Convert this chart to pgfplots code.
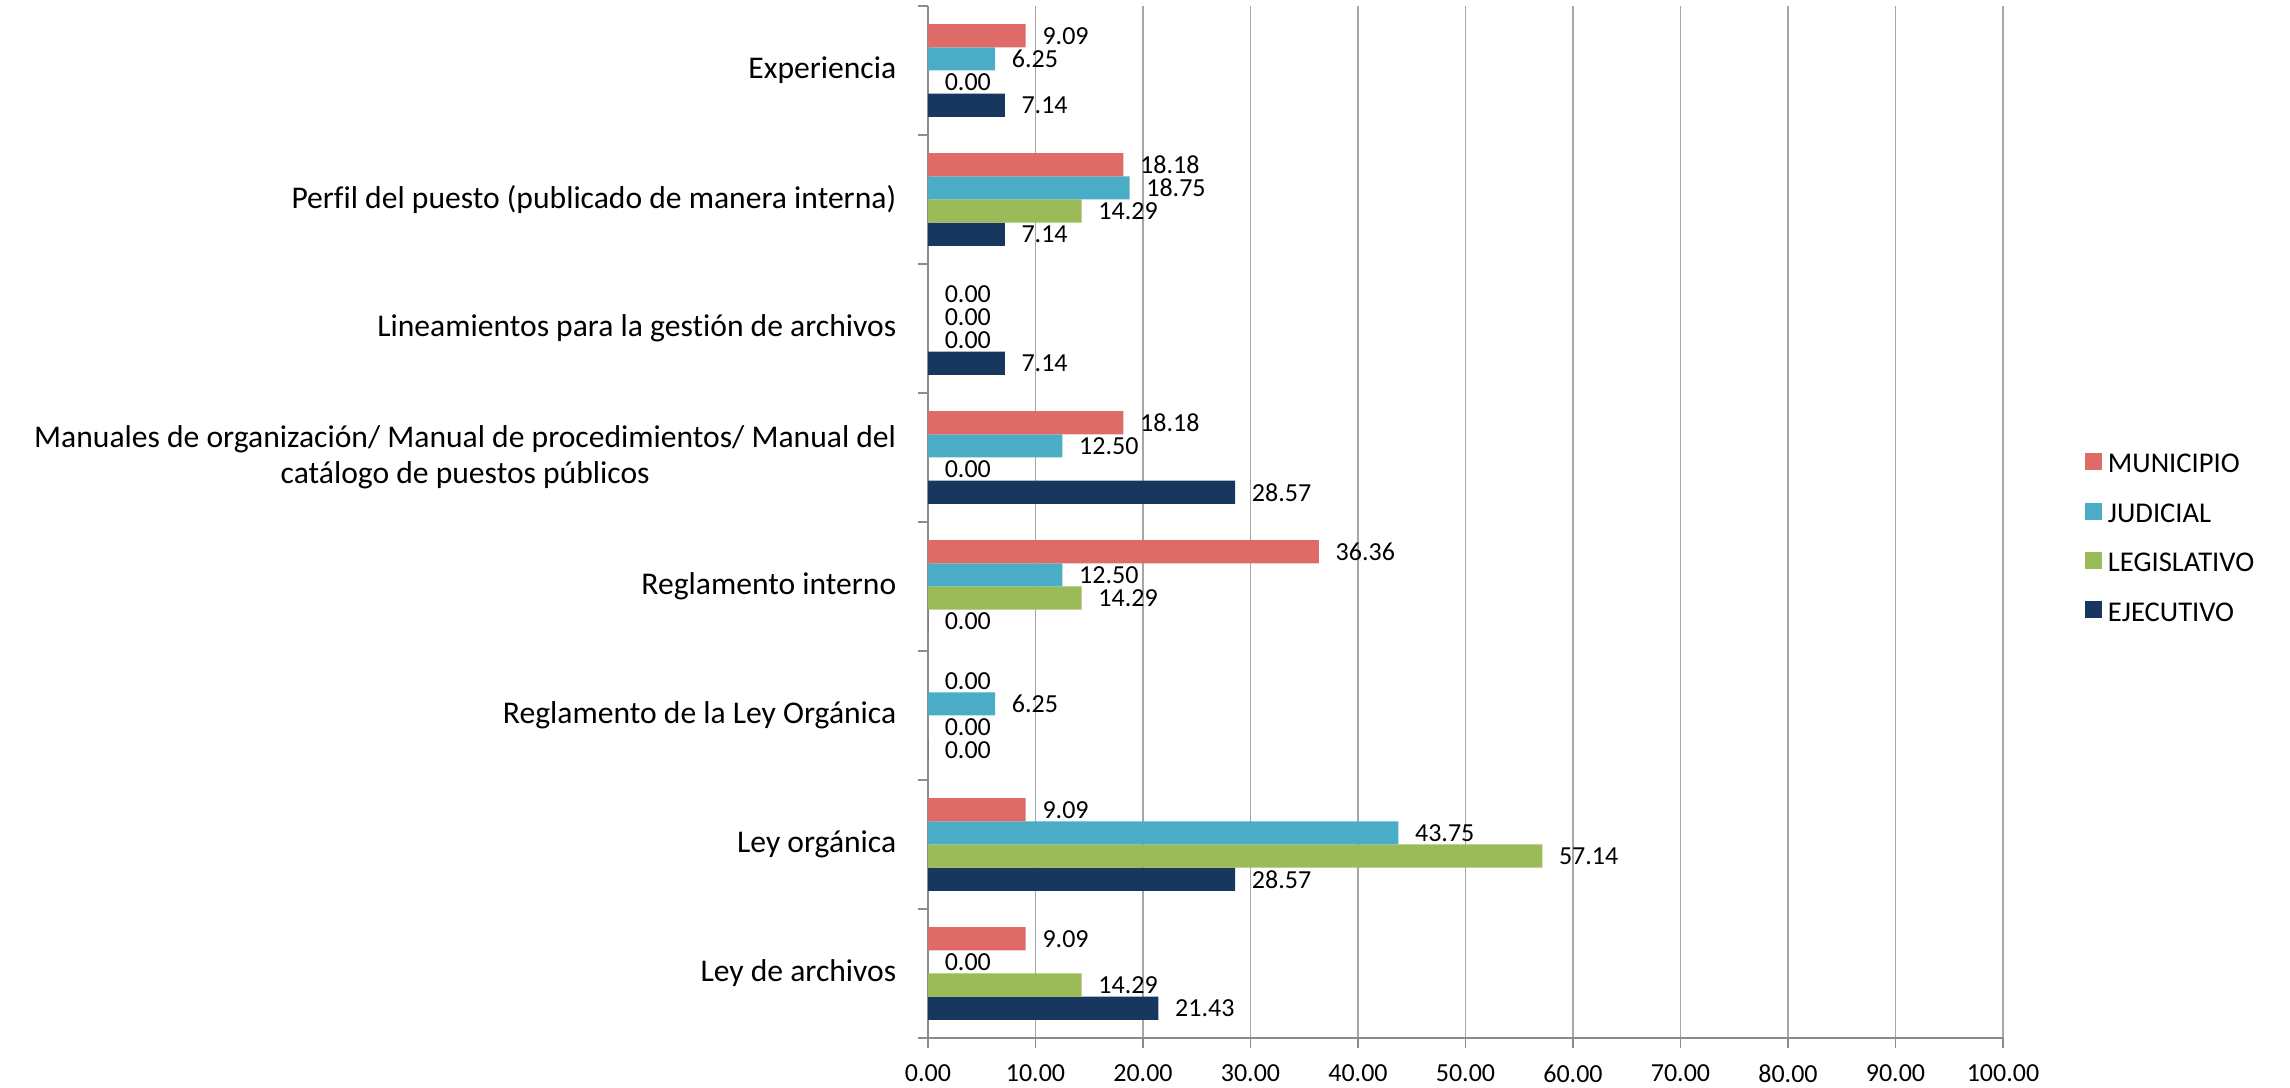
\documentclass[border=0pt]{standalone}
\usepackage{fontspec}
\setmainfont{Carlito}[Ligatures=CommonOff]
\usepackage{pgfplots}
\pgfplotsset{compat=1.18}
\definecolor{muni}{HTML}{DE6B68}
\definecolor{judi}{HTML}{4BACC6}
\definecolor{legi}{HTML}{9BBB59}
\definecolor{ejec}{HTML}{17375E}
\definecolor{axisgray}{HTML}{8C8C8C}
\definecolor{gridgray}{HTML}{A6A6A6}

% categories bottom to top: 0 Ley de archivos ... 7 Experiencia
\pgfplotstableread{
y ejec legi judi muni
0 21.43 14.29 0.00 9.09
1 28.57 57.14 43.75 9.09
2 0.00 0.00 6.25 0.00
3 0.00 14.29 12.50 36.36
4 28.57 0.00 12.50 18.18
5 7.14 0.00 0.00 0.00
6 7.14 14.29 18.75 18.18
7 7.14 0.00 6.25 9.09
}\datatable

\begin{document}
\begin{tikzpicture}
\path[use as bounding box] (0,0) rectangle (572.5pt,272pt);
\begin{axis}[
  at={(232pt,12.5pt)}, anchor=south west,
  scale only axis, width=268.75pt, height=258pt,
  xbar=0pt, bar width=5.8pt,
  xmin=0, xmax=100, ymin=-0.5, ymax=7.5,
  enlargelimits=false, clip=false,
  /pgf/number format/assume math mode=true,
  xtick={0,10,...,100},
  xticklabel style={font=\fontsize{6.5}{7}\selectfont, inner sep=0pt, yshift=-4pt,
    /pgf/number format/.cd, fixed, fixed zerofill, precision=2},
  ytick={-0.5,0.5,...,7.5},
  yticklabels={},
  extra y ticks={0,...,7},
  extra y tick labels={
    {Ley de archivos},
    {Ley orgánica},
    {Reglamento de la Ley Orgánica},
    {Reglamento interno},
    {Manuales de organización/ Manual de procedimientos/ Manual del\\catálogo de puestos públicos},
    {Lineamientos para la gestión de archivos},
    {Perfil del puesto (publicado de manera interna)},
    {Experiencia}},
  extra y tick style={major tick length=0pt, grid=none,
    yticklabel style={font=\fontsize{7.9}{9}\selectfont, align=center, inner sep=0pt, xshift=-7.75pt}},
  axis lines=left, axis line style={-, draw=axisgray, line width=0.4pt},
  tick align=outside, major tick length=2.5pt,
  tick style={draw=axisgray, line width=0.4pt},
  xmajorgrids, major x grid style={draw=gridgray, line width=0.35pt},
  point meta=x,
  nodes near coords={\pgfmathprintnumber[fixed,fixed zerofill,precision=2]{\pgfplotspointmeta}},
  nodes near coords align={horizontal},
  every node near coord/.append style={font=\fontsize{6.5}{7}\selectfont, text=black,
    inner sep=0pt, anchor=west, xshift=4pt},
  reverse legend,
  legend cell align=left,
  legend image code/.code={\draw[#1, draw=none] (0pt,-1.3pt) rectangle (4.25pt,2.95pt);},
  legend style={at={(1.0762,0.5688)}, anchor=north west, draw=none, fill=none,
    inner sep=0pt, outer sep=0pt, row sep=5.35pt,
    font=\fontsize{7.15}{8}\selectfont,
    nodes={inner sep=0pt, text height=5.5pt, text depth=1.5pt},
    /tikz/every odd column/.append style={column sep=1.5pt}},
]
\addplot[fill=ejec, draw=none] table[x=ejec, y=y] {\datatable};
\addplot[fill=legi, draw=none] table[x=legi, y=y] {\datatable};
\addplot[fill=judi, draw=none] table[x=judi, y=y] {\datatable};
\addplot[fill=muni, draw=none] table[x=muni, y=y] {\datatable};
\legend{EJECUTIVO, LEGISLATIVO, JUDICIAL, MUNICIPIO}
\end{axis}
\end{tikzpicture}
\end{document}
